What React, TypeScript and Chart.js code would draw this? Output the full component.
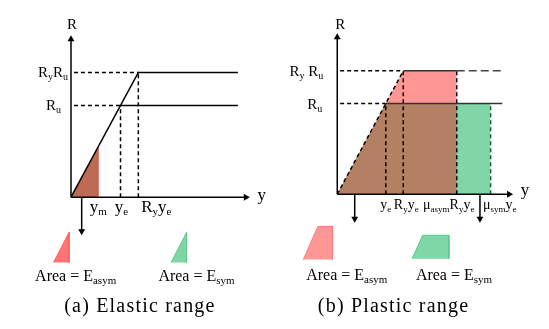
import { useEffect, useRef } from "react";
import { Chart, registerables } from "chart.js";
Chart.register(...registerables);

// ---------- (a) Elastic range : x in units of y_e, R in units of R_u ----------
const elasticYe = 1;
const elasticRu = 1;
const elasticRy = 1.36;
const elasticYm = 0.55;
const elasticPlateauEnd = 3.37;
const elasticAxisTop = 1.723;
const elasticAxisRight = 3.53;
const elasticArrowX = 0.216;
const elasticArrowBottom = -0.372;

// ---------- (b) Plastic range ----------
const plasticYe = 1;
const plasticRu = 1;
const plasticRy = 1.36;
const plasticMuAsym = 1.81;
const plasticMuSym = 3.16;
const plasticPlateauEnd = 3.4;
const plasticAxisTop = 1.731;
const plasticAxisRight = 3.54;
const plasticArrowXs = [0.36, 2.94];
const plasticArrowBottom = -0.269;

// legend glyphs (same units as their panel)
const elasticAsymGlyph: [number, number][] = [[-0.353, -0.713], [-0.04, -0.384], [-0.04, -0.713]];
const elasticSymGlyph: [number, number][] = [[2.019, -0.713], [2.333, -0.384], [2.333, -0.713]];
const plasticAsymGlyph: [number, number][] = [[-0.7, -0.72], [-0.4, -0.355], [-0.1, -0.355], [-0.1, -0.72]];
const plasticSymGlyph: [number, number][] = [[1.54, -0.71], [1.76, -0.452], [2.3, -0.452], [2.3, -0.71]];

const captions = ["(a) Elastic range", "(b) Plastic range"];

type P = [number, number];
type Part = [string, number?];
interface Label {
  x: number; y: number; dx: number; dy: number; parts: Part[];
  align: "left" | "center" | "right"; size?: number; sub?: number; spacing?: number;
}

const pts = (a: P[]) => a.map(([x, y]) => ({ x, y }));
const DASH = [4, 3];
function line(a: P[], color = "#000", width = 1.5, dash: number[] = []) {
  return { data: pts(a), borderColor: color, borderWidth: width, borderDash: dash, pointRadius: 0, fill: false };
}
function area(a: P[], color: string, base?: number, edge?: string) {
  return {
    data: pts(a), borderColor: edge ?? "rgba(0,0,0,0)", borderWidth: edge ? 1 : 0.01,
    pointRadius: 0, backgroundColor: color, fill: base === undefined ? "origin" : { value: base },
  };
}
function arrow(a: P[], rot: number) {
  return {
    data: pts(a), borderColor: "#000", borderWidth: 1.5, pointRadius: [0, 4], pointStyle: "triangle",
    rotation: [0, rot], pointBackgroundColor: "#000", pointBorderColor: "#000", pointBorderWidth: 0, fill: false,
  };
}
const minY = (g: P[]) => Math.min(...g.map((p) => p[1]));

// ---------- panel (a) ----------
const eRyYe = elasticRy * elasticYe;
const elasticSets = [
  area([[0, 0], [elasticYm, elasticYm * elasticRu / elasticYe]], "#bd6b55"),
  line([[elasticYm, 0], [elasticYm, elasticYm * elasticRu / elasticYe]], "#e2503e", 1),
  line([[0.06, elasticRy], [eRyYe, elasticRy]], "#000", 1.5, DASH),
  line([[0.06, elasticRu], [elasticYe, elasticRu]], "#000", 1.5, DASH),
  line([[elasticYe, 0], [elasticYe, elasticRu]], "#000", 1.5, DASH),
  line([[eRyYe, 0], [eRyYe, elasticRy]], "#000", 1.5, DASH),
  line([[0, 0], [eRyYe, elasticRy], [elasticPlateauEnd, elasticRy]]),
  line([[elasticYe, elasticRu], [elasticPlateauEnd, elasticRu]]),
  arrow([[0, 0], [0, elasticAxisTop]], 0),
  arrow([[0, 0], [elasticAxisRight, 0]], 90),
  arrow([[elasticArrowX, 0], [elasticArrowX, elasticArrowBottom]], 180),
  area(elasticAsymGlyph, "#ff7474", minY(elasticAsymGlyph), "#ff5e5e"),
  area(elasticSymGlyph, "#7fd6a4", minY(elasticSymGlyph), "#62c98d"),
];
const elasticLabels: Label[] = [
  { x: 0, y: elasticAxisTop, dx: 1, dy: -10, parts: [["R"]], align: "center" },
  { x: 0, y: elasticRy, dx: -3, dy: 5, parts: [["R"], ["y", 1], ["R"], ["u", 1]], align: "right" },
  { x: 0, y: elasticRu, dx: -10, dy: 5, parts: [["R"], ["u", 1]], align: "right" },
  { x: elasticYm, y: 0, dx: 0, dy: 15, parts: [["y"], ["m", 1]], align: "center", size: 17, sub: 11 },
  { x: elasticYe, y: 0, dx: 1, dy: 15, parts: [["y"], ["e", 1]], align: "center", size: 17, sub: 11 },
  { x: eRyYe, y: 0, dx: 18, dy: 15, parts: [["R"], ["y", 1], ["y"], ["e", 1]], align: "center", size: 17, sub: 11 },
  { x: elasticAxisRight, y: 0, dx: 16, dy: 3, parts: [["y"]], align: "center", size: 17 },
  { x: -0.725, y: -0.915, dx: 0, dy: 0, parts: [["Area = E"], ["asym", 1]], align: "left", size: 16, sub: 11 },
  { x: 1.765, y: -0.915, dx: 0, dy: 0, parts: [["Area = E"], ["sym", 1]], align: "left", size: 16, sub: 11 },
  { x: 1.392, y: -1.255, dx: 0, dy: 0, parts: [[captions[0]]], align: "center", size: 20, spacing: 1.2 },
];

// ---------- panel (b) ----------
const pRyYe = plasticRy * plasticYe;
const pAsymEnd = plasticMuAsym * plasticRy * plasticYe;
const pSymEnd = plasticMuSym * plasticYe;
const plasticSets = [
  area([[0, 0], [pRyYe, plasticRy], [pAsymEnd, plasticRy]], "#ff9696"),
  area([[0, 0], [plasticYe, plasticRu], [pSymEnd, plasticRu]], "#80d6a6"),
  area([[0, 0], [plasticYe, plasticRu], [pAsymEnd, plasticRu]], "#b38063"),
  line([[plasticYe, 0], [plasticYe, plasticRu]], "#000", 1.5, DASH),
  line([[pRyYe, 0], [pRyYe, plasticRy]], "#000", 1.5, DASH),
  line([[pAsymEnd, 0], [pAsymEnd, plasticRy]], "#000", 1.5, DASH),
  line([[pSymEnd, 0], [pSymEnd, plasticRu]], "#1f5f3a", 1.5, DASH),
  line([[0.06, plasticRy], [pRyYe, plasticRy]], "#000", 1.5, DASH),
  line([[0.06, plasticRu], [plasticYe, plasticRu]], "#000", 1.5, DASH),
  line([[pRyYe, plasticRy], [pAsymEnd, plasticRy]], "#333", 1.5),
  line([[pAsymEnd, plasticRy], [plasticPlateauEnd, plasticRy]], "#444", 1.5, [8, 4]),
  line([[plasticYe, plasticRu], [plasticPlateauEnd, plasticRu]], "#333", 1.5),
  line([[0, 0], [pRyYe, plasticRy]], "#000", 1.5, DASH),
  arrow([[0, 0], [0, plasticAxisTop]], 0),
  arrow([[0, 0], [plasticAxisRight, 0]], 90),
  arrow([[plasticArrowXs[0], 0], [plasticArrowXs[0], plasticArrowBottom]], 180),
  arrow([[plasticArrowXs[1], 0], [plasticArrowXs[1], plasticArrowBottom]], 180),
  area(plasticAsymGlyph, "#ff9797", minY(plasticAsymGlyph), "#ff7a7a"),
  area(plasticSymGlyph, "#7fd6a6", minY(plasticSymGlyph), "#5fc78c"),
];
const plasticLabels: Label[] = [
  { x: 0, y: plasticAxisTop, dx: 3, dy: -8, parts: [["R"]], align: "center" },
  { x: 0, y: plasticRy, dx: -14, dy: 5, parts: [["R"], ["y", 1], [" R"], ["u", 1]], align: "right" },
  { x: 0, y: plasticRu, dx: -15, dy: 5, parts: [["R"], ["u", 1]], align: "right" },
  { x: plasticYe, y: 0, dx: 0, dy: 15, parts: [["y"], ["e", 1]], align: "center", size: 14, sub: 9 },
  { x: pRyYe, y: 0, dx: 3, dy: 15, parts: [["R"], ["y", 1], ["y"], ["e", 1]], align: "center", size: 14, sub: 9 },
  { x: pAsymEnd, y: 0, dx: -8, dy: 15, parts: [["μ"], ["asym", 1], ["R"], ["y", 1], ["y"], ["e", 1]], align: "center", size: 14, sub: 9 },
  { x: pSymEnd, y: 0, dx: 9, dy: 15, parts: [["μ"], ["sym", 1], ["y"], ["e", 1]], align: "center", size: 14, sub: 9 },
  { x: plasticAxisRight, y: 0, dx: 16, dy: 1, parts: [["y"]], align: "center", size: 17 },
  { x: -0.64, y: -0.946, dx: 0, dy: 0, parts: [["Area = E"], ["asym", 1]], align: "left", size: 16, sub: 11 },
  { x: 1.62, y: -0.946, dx: 0, dy: 0, parts: [["Area = E"], ["sym", 1]], align: "left", size: 16, sub: 11 },
  { x: 1.16, y: -1.301, dx: 0, dy: 0, parts: [[captions[1]]], align: "center", size: 20, spacing: 1.2 },
];

interface Frame { width: number; height: number; ox: number; oy: number; sx: number; sy: number; }
const elasticFrame: Frame = { width: 275, height: 329, ox: 69, oy: 198, sx: 51, sy: 94 };
const plasticFrame: Frame = { width: 274, height: 329, ox: 60, oy: 195, sx: 50, sy: 93 };

function labelPlugin(items: Label[]) {
  return {
    id: "richLabels",
    afterDatasetsDraw(chart: any) {
      const ctx: CanvasRenderingContext2D = chart.ctx;
      const xs = chart.scales.x, ys = chart.scales.y;
      ctx.save();
      ctx.fillStyle = "#000";
      ctx.textBaseline = "alphabetic";
      ctx.textAlign = "left";
      for (const l of items) {
        const size = l.size ?? 15, sub = l.sub ?? 10;
        (ctx as any).letterSpacing = `${l.spacing ?? 0}px`;
        const widths = l.parts.map(([t, s]) => {
          ctx.font = `${s ? sub : size}px "Liberation Serif"`;
          return ctx.measureText(t).width;
        });
        const total = widths.reduce((a, b) => a + b, 0);
        let x = xs.getPixelForValue(l.x) + l.dx - (l.align === "center" ? total / 2 : l.align === "right" ? total : 0);
        const y = ys.getPixelForValue(l.y) + l.dy;
        const subShift = Math.round(size * 0.2);
        l.parts.forEach(([t, s], i) => {
          ctx.font = `${s ? sub : size}px "Liberation Serif"`;
          ctx.fillText(t, x, s ? y + subShift : y);
          x += widths[i];
        });
      }
      (ctx as any).letterSpacing = "0px";
      ctx.restore();
    },
  };
}

function Panel({ frame, sets, labels }: { frame: Frame; sets: any[]; labels: Label[] }) {
  const ref = useRef<HTMLCanvasElement>(null);
  useEffect(() => {
    if (!ref.current) return;
    const n = sets.length;
    const chart = new Chart(ref.current, {
      type: "line",
      data: { datasets: sets.map((d, i) => ({ ...d, order: n - i, tension: 0 })) },
      options: {
        animation: false,
        responsive: false,
        maintainAspectRatio: false,
        layout: { padding: 0 },
        events: [],
        scales: {
          x: { type: "linear", display: false, min: -frame.ox / frame.sx, max: (frame.width - frame.ox) / frame.sx },
          y: { type: "linear", display: false, min: -(frame.height - frame.oy) / frame.sy, max: frame.oy / frame.sy },
        },
        plugins: { legend: { display: false }, tooltip: { enabled: false } },
      } as any,
      plugins: [labelPlugin(labels)],
    });
    return () => chart.destroy();
  }, []);
  return <canvas ref={ref} width={frame.width} height={frame.height} style={{ width: frame.width, height: frame.height, display: "block" }} />;
}

export default function App() {
  return (
    <div style={{ position: "fixed", left: 0, top: 0, display: "flex", background: "#fff" }}>
      <Panel frame={elasticFrame} sets={elasticSets} labels={elasticLabels} />
      <Panel frame={plasticFrame} sets={plasticSets} labels={plasticLabels} />
    </div>
  );
}
